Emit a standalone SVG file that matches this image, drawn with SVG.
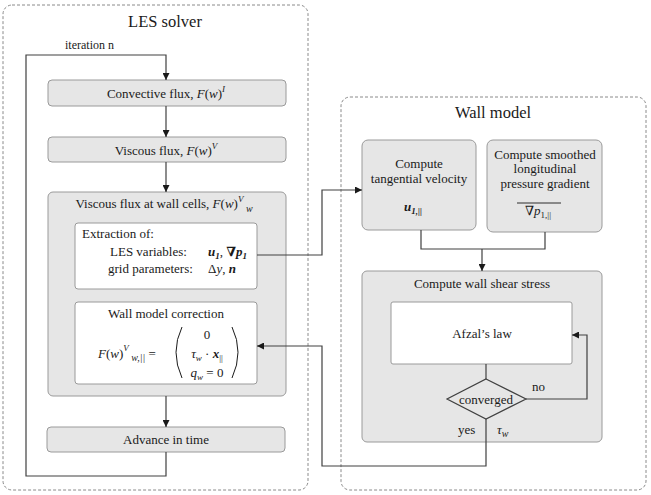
<svg xmlns="http://www.w3.org/2000/svg" width="651" height="495" viewBox="0 0 651 495">
<style>
text{font-family:'Liberation Serif','Times New Roman',Times,Tinos,'DejaVu Serif',serif;fill:#1a1a1a}
.t{font-size:13px}
.m{font-style:italic}
.b{font-weight:bold;font-style:italic}
.frame{fill:#fff;stroke:#8a8a8a;stroke-width:1;stroke-dasharray:3 2}
.box{fill:#e6e6e6;stroke:#9a9a9a;stroke-width:1}
.wbox{fill:#fff;stroke:#9a9a9a;stroke-width:1}
.c{fill:none;stroke:#404040;stroke-width:1.2}
</style>
<defs>
<marker id="ah" viewBox="0 0 10 10" refX="10" refY="5" markerWidth="7" markerHeight="7" orient="auto" markerUnits="userSpaceOnUse">
<path d="M0,0 L10,5 L0,10 z" fill="#1a1a1a"/>
</marker>
</defs>
<rect width="651" height="495" fill="#fff"/>
<g font-family="Liberation Serif, Times New Roman, serif">
<g id="les-solver">
<rect class="frame" x="3" y="5" width="305" height="485" rx="9"/>
<text x="165" y="27" font-size="16.5" text-anchor="middle">LES solver</text>
</g>
<g id="wall-model">
<rect class="frame" x="341" y="97" width="305" height="393" rx="9"/>
<text x="493" y="118" font-size="16.5" text-anchor="middle">Wall model</text>
</g>

<g id="iteration-label"><text x="65" y="49" font-size="12">iteration n</text></g>

<g id="convective">
<rect class="box" x="48" y="80" width="238" height="26" rx="4"/>
<text class="t" x="166" y="98" text-anchor="middle">Convective flux, <tspan class="m">F</tspan>(<tspan class="m">w</tspan>)<tspan class="m" font-size="9" dy="-6">I</tspan></text>
</g>
<g id="viscous">
<rect class="box" x="48" y="137" width="238" height="25" rx="4"/>
<text class="t" x="166" y="155" text-anchor="middle">Viscous flux, <tspan class="m">F</tspan>(<tspan class="m">w</tspan>)<tspan class="m" font-size="9" dy="-6">V</tspan></text>
</g>
<g id="viscous-wall">
<rect class="box" x="48" y="192" width="238" height="204" rx="5"/>
<text class="t" x="164" y="208" text-anchor="middle">Viscous flux at wall cells, <tspan class="m">F</tspan>(<tspan class="m">w</tspan>)<tspan class="m" font-size="9" dy="-6">V</tspan><tspan class="m" font-size="10" dy="10"> w</tspan></text>
</g>
<g id="extraction">
<rect class="wbox" x="75" y="223" width="182" height="66" rx="3"/>
<text class="t" x="82" y="238">Extraction of:</text>
<text class="t" x="110" y="256">LES  variables:</text>
<text class="t" x="108" y="273">grid parameters:</text>
<text class="t" x="208" y="256"><tspan class="b">u</tspan><tspan class="b" font-size="9" dy="3">1</tspan><tspan dy="-3">, </tspan><tspan class="b">∇p</tspan><tspan class="b" font-size="9" dy="3">1</tspan></text>
<text class="t" x="208" y="273">Δ<tspan class="m">y</tspan>, <tspan class="b">n</tspan></text>
</g>
<g id="correction">
<rect class="wbox" x="75" y="302" width="182" height="82" rx="3"/>
<text class="t" x="166" y="318" text-anchor="middle">Wall model correction</text>
<text class="t" x="98" y="358"><tspan class="m">F</tspan>(<tspan class="m">w</tspan>)<tspan class="m" font-size="9" dy="-7">V</tspan><tspan class="m" font-size="10" dy="10"> w,||</tspan><tspan dy="-3"> =</tspan></text>
<path d="M182,327 Q170,352 182,378" fill="none" stroke="#1a1a1a" stroke-width="1"/>
<path d="M232,327 Q244,352 232,378" fill="none" stroke="#1a1a1a" stroke-width="1"/>
<text class="t" x="207" y="339" text-anchor="middle">0</text>
<text class="t" x="207" y="358" text-anchor="middle"><tspan class="m">τ</tspan><tspan class="m" font-size="9" dy="3">w</tspan><tspan dy="-3"> · </tspan><tspan class="b">x</tspan><tspan font-size="9" dy="3">||</tspan></text>
<text class="t" x="207" y="377" text-anchor="middle"><tspan class="m">q</tspan><tspan class="m" font-size="9" dy="3">w</tspan><tspan dy="-3"> = 0</tspan></text>
</g>
<g id="advance">
<rect class="box" x="47" y="427" width="238" height="25" rx="4"/>
<text class="t" x="166" y="444" text-anchor="middle">Advance in time</text>
</g>

<g id="tangential">
<rect class="box" x="362" y="140" width="114" height="90" rx="6"/>
<text class="t" x="419" y="168" text-anchor="middle">Compute</text>
<text class="t" x="419" y="183" text-anchor="middle">tangential velocity</text>
<text class="t" x="413" y="211" text-anchor="middle"><tspan class="b">u</tspan><tspan class="b" font-size="9" dy="3">1,||</tspan></text>
</g>
<g id="smoothed">
<rect class="box" x="487" y="140" width="115" height="92" rx="6"/>
<text class="t" x="545" y="159" text-anchor="middle">Compute smoothed</text>
<text class="t" x="545" y="173" text-anchor="middle">longitudinal</text>
<text class="t" x="545" y="188" text-anchor="middle">pressure gradient</text>
<line x1="517" y1="203" x2="561" y2="203" stroke="#1a1a1a" stroke-width="0.9"/>
<text class="t" x="538" y="215" text-anchor="middle">∇<tspan class="m">p</tspan><tspan font-size="9" dy="3">1,||</tspan></text>
</g>
<g id="shear-stress">
<rect class="box" x="362" y="271" width="240" height="171" rx="5"/>
<text class="t" x="482" y="288" text-anchor="middle">Compute wall shear stress</text>
</g>
<g id="afzal">
<rect class="wbox" x="391" y="302" width="181" height="62" rx="2"/>
<text class="t" x="482" y="338" text-anchor="middle">Afzal’s law</text>
</g>
<g id="converged">
<polygon points="486,379 526,399 486,419 447,399" fill="#e6e6e6" stroke="#404040" stroke-width="1.2"/>
<text class="t" x="486" y="404" text-anchor="middle">converged</text>
</g>

<g id="connectors">
<polyline class="c" points="166,452 166,476 26,476 26,55 166,55 166,80" marker-end="url(#ah)"/>
<line class="c" x1="166" y1="106" x2="166" y2="137" marker-end="url(#ah)"/>
<line class="c" x1="166" y1="162" x2="166" y2="192" marker-end="url(#ah)"/>
<line class="c" x1="166" y1="396" x2="166" y2="427" marker-end="url(#ah)"/>
<polyline class="c" points="257,255 322,255 322,190 362,190" marker-end="url(#ah)"/>
<polyline class="c" points="421,230 421,249 545,249 545,232"/>
<line class="c" x1="482" y1="249" x2="482" y2="271" marker-end="url(#ah)"/>
<line class="c" x1="486" y1="364" x2="486" y2="379"/>
<polyline class="c" points="526,399 587,399 587,335 572,335" marker-end="url(#ah)"/>
<polyline class="c" points="486,419 486,466 322,466 322,346 257,346" marker-end="url(#ah)"/>
<text class="t" x="532" y="391">no</text>
<text class="t" x="458" y="434">yes</text>
<text class="t" x="497" y="434"><tspan class="m">τ</tspan><tspan class="m" font-size="10" dy="3">w</tspan></text>
</g>
</g>
</svg>
